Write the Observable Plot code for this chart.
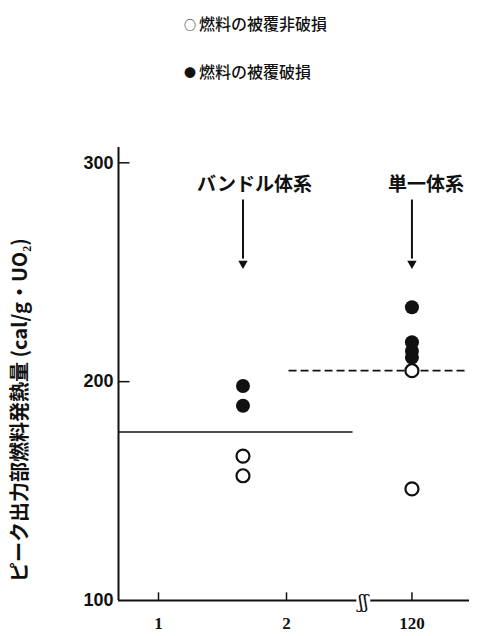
<!DOCTYPE html>
<html><head><meta charset="utf-8">
<script src="https://cdn.jsdelivr.net/npm/d3@7"></script>
<script src="https://cdn.jsdelivr.net/npm/@observablehq/plot@0.6"></script>
<style>
body{margin:0;background:#fff;width:477px;height:636px;overflow:hidden;font-family:"Noto Sans CJK JP",sans-serif;}
#legend{height:110px;position:relative;}
#legend div{position:absolute;left:184px;font-size:16px;font-weight:500;color:#111;}
#legend span{font-size:12px;margin-right:3px;}
</style></head>
<body>
<div id="legend"><div style="top:11px"><span>○</span>燃料の被覆非破損</div><div style="top:59px"><span>●</span>燃料の被覆破損</div></div>
<div id="chart"></div>
<script>
// categories and their x positions on the (broken) axis
const systems = ["バンドル体系", "単一体系"];
const systemX = [1.66, 2.98];
const labelX = [1.75, 3.09];
// data points
const pointSystem = [0, 0, 0, 0, 1, 1, 1, 1, 1, 1];
const pointValue  = [198, 189, 166, 157, 234, 218, 214, 211, 205, 151];
const pointBroken = [true, true, false, false, true, true, true, true, false, false];
// x tick positions and labels
const xTickPos = [1, 2, 2.98];
const xTickLabels = ["1", "2", "120"];
const yTicks = [100, 200, 300];
// threshold lines
const solidLine = {x1: 0.6875, x2: 2.52, y: 177};
const dashedLine = {x1: 2.02, x2: 3.4, y: 205};
const breakX = 2.6;
const arrowTop = 283, arrowBottom = 254, labelY = 290;

const xDom = [0.6875, 3.4375];
const yDom = [100, 307];
const points = pointValue.map((v, i) => ({x: systemX[pointSystem[i]], y: v, broken: pointBroken[i]}));
const labels = systems.map((s, i) => ({x: labelX[i], y: labelY, s}));
const arrows = systemX.map(x => ({x}));

const chart = Plot.plot({
  width: 477, height: 526,
  marginLeft: 118, marginRight: 7, marginTop: 37, marginBottom: 36,
  x: {type: "linear", domain: xDom, axis: null},
  y: {type: "linear", domain: yDom, axis: null},
  style: {background: "#fff", color: "#111"},
  marks: [
    // axes lines
    Plot.ruleX([xDom[0]], {y1: yDom[0], y2: yDom[1], stroke: "#111", strokeWidth: 2}),
    Plot.ruleY([yDom[0]], {x1: xDom[0], x2: 3.43, stroke: "#111", strokeWidth: 2}),
    // inward ticks
    Plot.ruleY(yTicks.slice(1), {x1: xDom[0], x2: xDom[0] + 0.09, stroke: "#111", strokeWidth: 1.5}),
    Plot.ruleX(xTickPos, {y1: 100, y2: 103.5, stroke: "#111", strokeWidth: 1.5}),
    // tick labels
    Plot.text(yTicks, {x: xDom[0], y: d => d, text: d => String(d), textAnchor: "end", dx: -5, fontSize: 18, fontFamily: "Liberation Sans", fontWeight: "bold"}),
    Plot.text(xTickPos, {x: d => d, y: 100, text: (d, i) => xTickLabels[i], dy: 23, fontSize: 17, fontFamily: "Liberation Serif", fontWeight: "bold"}),
    // axis break
    Plot.dot([breakX], {x: d => d, y: 100, r: 7, fill: "#fff", stroke: null}),
    Plot.text([breakX], {x: d => d, y: 100, text: () => "ʃʃ", fontSize: 19, fontFamily: "DejaVu Serif", dy: 1}),
    // y axis label
    Plot.text(["ピーク出力部燃料発熱量 (cal/g・UO₂)"], {x: xDom[0], y: 187, text: d => d, rotate: -90, dx: -98, fontSize: 20, fontWeight: "bold", fontFamily: "Noto Sans CJK JP"}),
    // threshold lines
    Plot.ruleY([solidLine], {x1: "x1", x2: "x2", y: "y", stroke: "#111", strokeWidth: 1.5}),
    Plot.ruleY([dashedLine], {x1: "x1", x2: "x2", y: "y", stroke: "#111", strokeWidth: 1.8, strokeDasharray: "8,4"}),
    // system labels and arrows
    Plot.text(labels, {x: "x", y: "y", text: "s", fontSize: 19, fontWeight: "bold", fontFamily: "Noto Sans CJK JP"}),
    Plot.ruleX(arrows, {x: "x", y1: arrowTop, y2: arrowBottom + 2, stroke: "#111", strokeWidth: 2}),
    Plot.dot(arrows, {x: "x", y: arrowBottom, symbol: "triangle", rotate: 180, r: 3.5, fill: "#111", stroke: null}),
    // points
    Plot.dot(points.filter(d => !d.broken), {x: "x", y: "y", r: 6.5, fill: "#fff", stroke: "#111", strokeWidth: 2.2}),
    Plot.dot(points.filter(d => d.broken), {x: "x", y: "y", r: 7, fill: "#111", stroke: null})
  ]
});
document.getElementById("chart").append(chart);
</script>
</body></html>
